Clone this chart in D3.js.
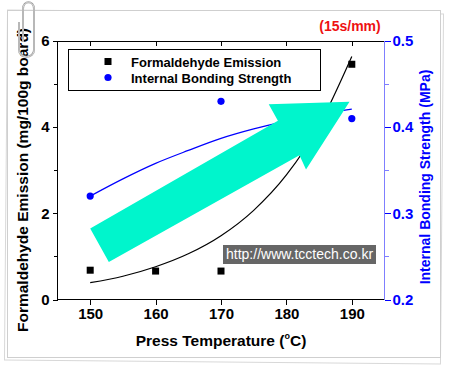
<!DOCTYPE html>
<html>
<head>
<meta charset="utf-8">
<script src="https://cdn.jsdelivr.net/npm/d3@7"></script>
<style>
  body { margin: 0; background: #fff; }
  svg { display: block; font-family: Arial, "Liberation Sans", sans-serif; }
</style>
</head>
<body>
<div class="data-board"></div>
<script>
var width = 449;
var height = 369;

// measured values
var temps = [150, 160, 170, 190];
var emission = [0.68, 0.66, 0.66, 5.46];
var ibTemps = [150, 170, 190];
var bonding = [0.32, 0.43, 0.41];

// fitted curves
var fitTemps = [150, 155, 160, 165, 170, 175, 180, 185, 190];
var emissionFit = [0.39, 0.54, 0.76, 1.06, 1.48, 2.07, 2.89, 4.04, 5.64];
var bondingFit = [0.320, 0.340, 0.358, 0.373, 0.387, 0.398, 0.407, 0.415, 0.421];

var xTicks = [150, 160, 170, 180, 190];
var yTicks = [0, 2, 4, 6];
var y2Ticks = [0.2, 0.3, 0.4, 0.5];

// arrow annotation in (temperature, emission) units
var arrowT = [150, 178.7, 177.3, 189.65, 183.0, 182.0, 152.85];
var arrowV = [1.65, 4.15, 4.53, 4.59, 3.02, 3.35, 0.87];

var plotL = 57.5, plotR = 384.5, plotT = 41, plotB = 299.5;
var blue = '#0000ff';
var axisBlue = '#7f7fff';

var chart = d3.select('.data-board')
  .append('svg')
  .attr('width', width)
  .attr('height', height);

// paper frame
chart.append('rect')
  .attr('x', 6).attr('y', 12).attr('width', 436).attr('height', 350)
  .attr('fill', '#fff').attr('stroke', '#d8d8d8')
  .attr('transform', 'rotate(0.5 224 186)');
chart.append('rect')
  .attr('x', 7.5).attr('y', 10.5).attr('width', 433).attr('height', 347)
  .attr('fill', '#fff').attr('stroke', '#cfcfcf');

var x = d3.scaleLinear().domain([145, 195]).range([plotL, plotR]);
var y = d3.scaleLinear().domain([0, 6]).range([plotB, plotT]);
var y2 = d3.scaleLinear().domain([0.2, 0.5]).range([plotB, plotT]);

// axes
var xAxis = d3.axisBottom(x).tickValues(xTicks).tickSize(5).tickPadding(4).tickFormat(d3.format('d'));
var xTop = d3.axisBottom(x).tickValues(xTicks).tickSize(5).tickFormat('');
var yMinor = d3.axisLeft(y).tickValues([1, 3, 5]).tickSize(4).tickFormat('');
var yAxis = d3.axisLeft(y).tickValues(yTicks).tickSize(5).tickPadding(3).tickFormat(d3.format('d'));
var y2Minor = d3.axisRight(y2).tickValues([0.25, 0.35, 0.45]).tickSize(4).tickFormat('');
var y2Axis = d3.axisRight(y2).tickValues(y2Ticks).tickSize(6).tickPadding(2).tickFormat(d3.format('.1f'));

function styleAxis(g, col, lineCol) {
  g.select('.domain').remove();
  g.selectAll('line').attr('stroke', lineCol || col).attr('shape-rendering', 'crispEdges');
  g.selectAll('text').attr('font-size', 15).attr('font-weight', 'bold').attr('fill', col)
    .attr('font-family', 'Arial, "Liberation Sans", sans-serif');
}

chart.append('g').attr('transform', `translate(0,${plotB})`).call(xAxis).call(styleAxis, '#000');
chart.append('g').attr('transform', `translate(0,${plotT})`).call(xTop).call(styleAxis, '#000');
chart.append('g').attr('transform', `translate(${plotL},0)`).call(yMinor).call(styleAxis, '#000');
chart.append('g').attr('transform', `translate(${plotL},0)`).call(yAxis).call(styleAxis, '#000');
chart.append('g').attr('transform', `translate(${plotR},0)`).call(y2Minor).call(styleAxis, blue, axisBlue);
chart.append('g').attr('transform', `translate(${plotR},0)`).call(y2Axis).call(styleAxis, blue, blue);

// frame lines
chart.append('path').attr('d', `M${plotR},${plotT}H${plotL}V${plotB}H${plotR}`)
  .attr('fill', 'none').attr('stroke', '#000').attr('shape-rendering', 'crispEdges');
chart.append('line').attr('x1', plotR).attr('x2', plotR).attr('y1', plotT).attr('y2', plotB)
  .attr('stroke', axisBlue).attr('shape-rendering', 'crispEdges');

// fit lines
var line = d3.line().curve(d3.curveMonotoneX);
chart.append('path')
  .attr('d', line(fitTemps.map((t, i) => [x(t), y(emissionFit[i])])))
  .attr('fill', 'none').attr('stroke', '#000').attr('stroke-width', 1.2);
chart.append('path')
  .attr('d', line(fitTemps.map((t, i) => [x(t), y2(bondingFit[i])])))
  .attr('fill', 'none').attr('stroke', blue).attr('stroke-width', 1.2);

// markers
chart.selectAll('rect.fe').data(temps).enter().append('rect')
  .attr('class', 'fe')
  .attr('x', d => x(d) - 3.5).attr('y', (d, i) => y(emission[i]) - 3.5)
  .attr('width', 7).attr('height', 7).attr('fill', '#000');
chart.selectAll('circle.ib').data(ibTemps).enter().append('circle')
  .attr('class', 'ib')
  .attr('cx', d => x(d)).attr('cy', (d, i) => y2(bonding[i]))
  .attr('r', 3.6).attr('fill', blue);

// legend
chart.append('rect').attr('x', 68.5).attr('y', 49.5).attr('width', 252).attr('height', 41)
  .attr('fill', '#fff').attr('stroke', '#000');
chart.append('rect').attr('x', 104.5).attr('y', 58).attr('width', 7).attr('height', 7).attr('fill', '#000');
chart.append('circle').attr('cx', 108).attr('cy', 77.5).attr('r', 3.6).attr('fill', blue);
chart.append('text').attr('x', 131).attr('y', 66.5).attr('font-size', 13).attr('font-weight', 'bold')
  .text('Formaldehyde Emission');
chart.append('text').attr('x', 131).attr('y', 82.5).attr('font-size', 13).attr('font-weight', 'bold')
  .text('Internal Bonding Strength');

// arrow overlay
chart.append('path')
  .attr('d', 'M' + arrowT.map((t, i) => x(t) + ',' + y(arrowV[i])).join('L') + 'Z')
  .attr('fill', '#00f5cc');

// watermark
chart.append('rect').attr('x', 223).attr('y', 245).attr('width', 153).attr('height', 19).attr('fill', '#666');
chart.append('text').attr('x', 226).attr('y', 259).attr('font-size', 14).attr('fill', '#fff')
  .attr('font-family', 'Arial, "Liberation Sans", sans-serif')
  .text('http://www.tcctech.co.kr');

// titles
chart.append('text').attr('x', 350).attr('y', 31).attr('text-anchor', 'middle')
  .attr('font-size', 14).attr('font-weight', 'bold').attr('fill', '#ee1111')
  .text('(15s/mm)');

var xt = chart.append('text').attr('x', 221).attr('y', 346).attr('text-anchor', 'middle')
  .attr('font-size', 15.5).attr('font-weight', 'bold');
xt.append('tspan').text('Press Temperature (');
xt.append('tspan').attr('font-size', 9).attr('dy', -7).text('o');
xt.append('tspan').attr('dy', 7).text('C)');

chart.append('text').attr('transform', 'translate(28,180) rotate(-90)').attr('text-anchor', 'middle')
  .attr('font-size', 15.5).attr('font-weight', 'bold')
  .text('Formaldehyde Emission (mg/100g board)');
chart.append('text').attr('transform', 'translate(430,177) rotate(-90)').attr('text-anchor', 'middle')
  .attr('font-size', 14).attr('font-weight', 'bold').attr('fill', blue)
  .text('Internal Bonding Strength (MPa)');

// paper clip
chart.append('path')
  .attr('d', 'M23,42 V9 C23,0 34,0 34,9 V50 C34,59 19,59 19,50 V22')
  .attr('fill', 'none').attr('stroke', '#999').attr('stroke-width', 2);
chart.append('path')
  .attr('d', 'M23,42 V9 C23,0 34,0 34,9 V50 C34,59 19,59 19,50 V22')
  .attr('fill', 'none').attr('stroke', '#f4f4f4').attr('stroke-width', 0.7);
</script>
</body>
</html>
